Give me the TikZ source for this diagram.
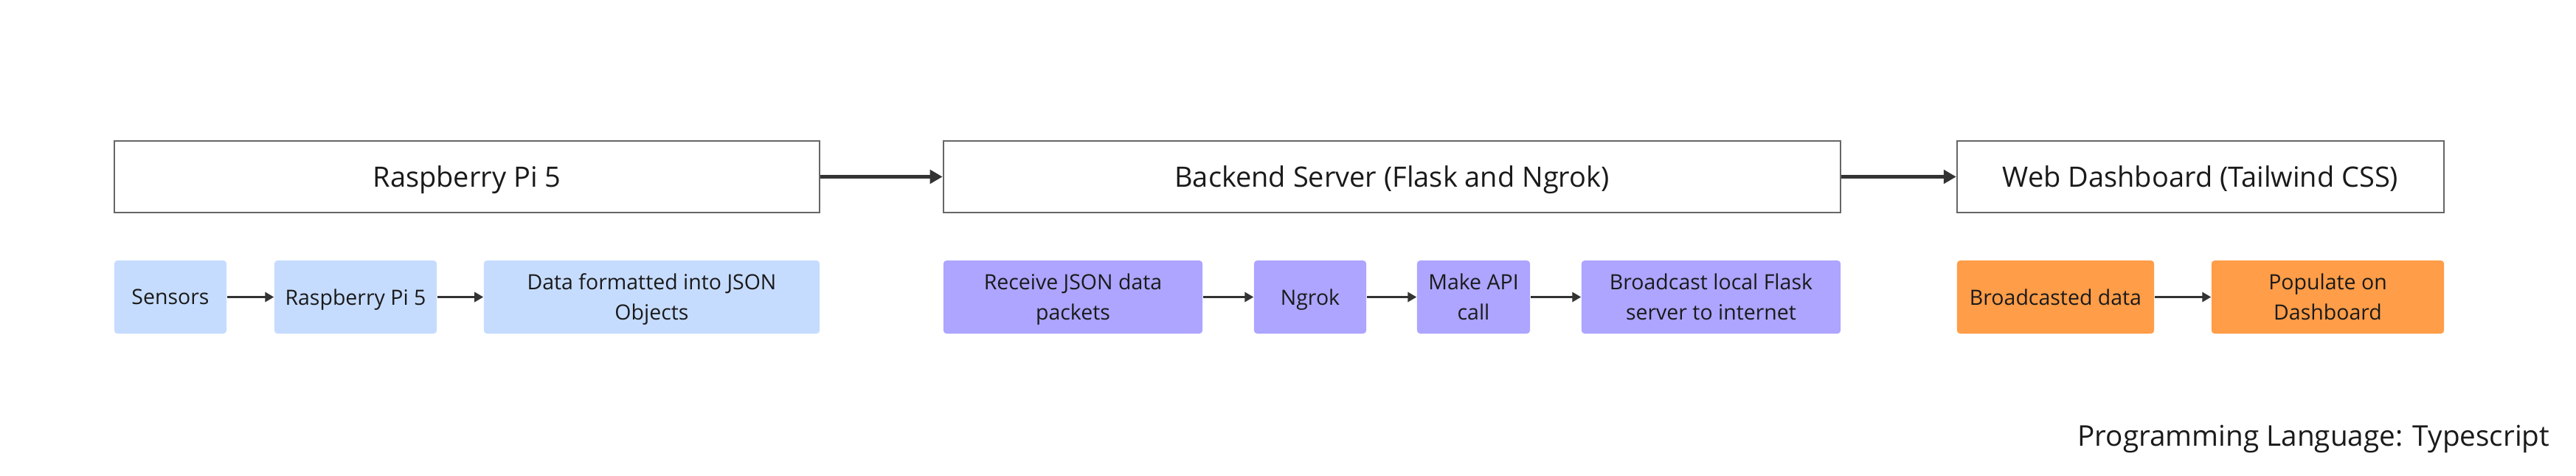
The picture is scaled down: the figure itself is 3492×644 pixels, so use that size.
\documentclass[tikz,border=0pt]{standalone}
\usepackage{fontspec}
\setmainfont{Open Sans}
\usetikzlibrary{arrows.meta}

\definecolor{piblue}{HTML}{C6DCFF}
\definecolor{serverviolet}{HTML}{ADA5FF}
\definecolor{weborange}{HTML}{FF9D48}
\definecolor{inkdark}{HTML}{1A1A1A}
\definecolor{framegray}{HTML}{666666}
\definecolor{arrowgray}{HTML}{333333}

\begin{document}
\begin{tikzpicture}[x=0.01cm, y=0.01cm,
	stage/.style={draw=framegray, line width=0.6pt, fill=white, minimum height=0.97cm, inner sep=0pt, text depth=0pt, text=inkdark, font=\fontsize{10.8}{13}\selectfont},
	task/.style={rounded corners=1.2pt, inner sep=0pt, minimum height=0.99cm, text depth=0pt, align=center, text=inkdark, font=\fontsize{8.1}{11.7}\selectfont},
	bigarrow/.style={draw=arrowgray, line width=1.15pt, -{Triangle[length=4.8pt, width=5.2pt]}},
	smallarrow/.style={draw=arrowgray, line width=0.65pt, -{Triangle[length=3.4pt, width=3.8pt]}}]
	\useasboundingbox (0,0) rectangle (3492,-644);

	\node[stage, minimum width=9.56cm](rpi) at (633,-239.5) {Raspberry Pi 5};
	\node[stage, minimum width=12.16cm](backend) at (1887,-239.5) {Backend Server (Flask and Ngrok)};
	\node[stage, minimum width=6.6cm](dashboard) at (2983,-239.5) {Web Dashboard (Tailwind CSS)};

	\node[task, fill=piblue, minimum width=1.52cm](sensors) at (231,-402.5) {Sensors};
	\node[task, fill=piblue, minimum width=2.2cm](pi) at (482,-402.5) {Raspberry Pi 5};
	\node[task, fill=piblue, minimum width=4.55cm](json) at (883.5,-402.5) {Data formatted into JSON\\Objects};

	\node[task, fill=serverviolet, minimum width=3.51cm](receive) at (1454.5,-402.5) {Receive JSON data\\packets};
	\node[task, fill=serverviolet, minimum width=1.52cm](ngrok) at (1776,-402.5) {Ngrok};
	\node[task, fill=serverviolet, minimum width=1.53cm](api) at (1997.5,-402.5) {Make API\\call};
	\node[task, fill=serverviolet, minimum width=3.51cm](broadcast) at (2319.5,-402.5) {Broadcast local Flask\\server to internet};

	\node[task, fill=weborange, minimum width=2.67cm](data) at (2786.5,-402.5) {Broadcasted data};
	\node[task, fill=weborange, minimum width=3.15cm](populate) at (3155.5,-402.5) {Populate on\\Dashboard};

	\node[anchor=base east, inner sep=0pt, text=inkdark, font=\fontsize{11}{13}\selectfont](lang) at (3457,-604) {Programming Language: Typescript};

	\draw[bigarrow](rpi) -- (backend);
	\draw[bigarrow](backend) -- (dashboard);

	\draw[smallarrow](sensors) -- (pi);
	\draw[smallarrow](pi) -- (json);
	\draw[smallarrow](receive) -- (ngrok);
	\draw[smallarrow](ngrok) -- (api);
	\draw[smallarrow](api) -- (broadcast);
	\draw[smallarrow](data) -- (populate);
\end{tikzpicture}
\end{document}
